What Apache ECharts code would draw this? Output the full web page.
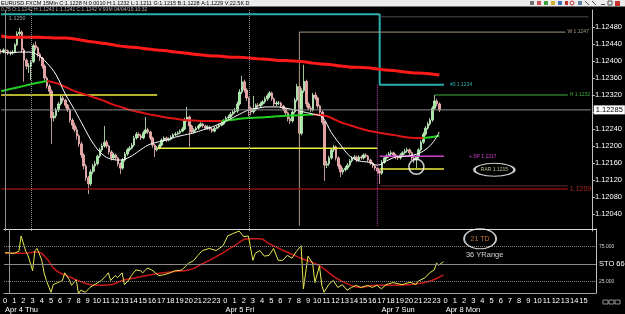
<!DOCTYPE html>
<html>
<head>
<meta charset="UTF-8">
<title>EURUSD.FXCM 15Min</title>
<script src="https://cdn.jsdelivr.net/npm/echarts@6/dist/echarts.min.js"></script>
<style>
  html, body { margin: 0; padding: 0; background: #000; }
  #main { width: 625px; height: 314px; }
</style>
</head>
<body>
<div id="main"></div>
<script type="text/javascript">
// ---- axis labels ----
var hourLabels = ['0','1','2','3','4','5','6','7','8','9','10','11','12','13','14','15','16','17','18','19','20','21','22','23',
  '0','1','2','3','4','5','6','7','8','9','10','11','12','13','14','15','16',
  '17','18','19','20','21','22','23',
  '0','1','2','3','4','5','6','7','8','9','10','11','12','13','14','15'];
var dateHours = [0, 24, 41, 48];
var dateTexts = ['Apr 4 Thu', 'Apr 5 Fri', 'Apr 7 Sun', 'Apr 8 Mon'];
var barsPerHour = 4;
var totalSlots = 258;

// ---- 15 min candles ----
var opens = [1.12423,1.12421,1.12426,1.12424,1.12419,1.12419,1.12421,1.12438,1.12464,1.12468,
  1.12426,1.12402,1.12388,1.12388,1.12398,1.12436,1.12431,1.12416,1.12407,1.12388,
  1.12360,1.12341,1.12329,1.12266,1.12271,1.12285,1.12299,1.12313,1.12308,1.12296,
  1.12285,1.12261,1.12249,1.12238,1.12224,1.12205,1.12179,1.12153,1.12125,1.12111,
  1.12139,1.12153,1.12158,1.12176,1.12191,1.12200,1.12209,1.12200,1.12186,1.12172,
  1.12179,1.12172,1.12158,1.12148,1.12167,1.12181,1.12191,1.12195,1.12202,1.12219,
  1.12228,1.12224,1.12219,1.12231,1.12238,1.12233,1.12219,1.12202,1.12191,1.12195,
  1.12202,1.12214,1.12219,1.12214,1.12216,1.12221,1.12226,1.12228,1.12231,1.12235,
  1.12240,1.12261,1.12268,1.12247,1.12233,1.12238,1.12242,1.12247,1.12252,1.12247,
  1.12242,1.12245,1.12240,1.12235,1.12242,1.12245,1.12249,1.12252,1.12259,1.12266,
  1.12268,1.12275,1.12280,1.12282,1.12299,1.12327,1.12351,1.12332,1.12313,1.12289,
  1.12280,1.12287,1.12296,1.12294,1.12299,1.12304,1.12311,1.12318,1.12325,1.12311,
  1.12299,1.12301,1.12301,1.12294,1.12287,1.12278,1.12264,1.12259,1.12280,1.12308,
  1.12340,1.12230,1.12330,1.12352,1.12299,1.12289,1.12285,1.12320,1.12313,1.12294,
  1.12280,1.12256,1.12155,1.12158,1.12172,1.12191,1.12198,1.12172,1.12153,1.12139,
  1.12144,1.12148,1.12155,1.12165,1.12172,1.12174,1.12167,1.12174,1.12172,1.12179,
  1.12176,1.12167,1.12160,1.12153,1.12148,1.12141,1.12136,1.12162,1.12172,1.12176,
  1.12181,1.12184,1.12179,1.12174,1.12172,1.12179,1.12184,1.12188,1.12191,1.12184,
  1.12172,1.12167,1.12174,1.12191,1.12209,1.12228,1.12242,1.12252,1.12261,1.12289,
  1.12306,1.12299];
var closes = [1.12421,1.12426,1.12424,1.12419,1.12419,1.12421,1.12438,1.12464,1.12468,1.12426,
  1.12402,1.12388,1.12388,1.12398,1.12436,1.12431,1.12416,1.12407,1.12388,1.12360,
  1.12341,1.12329,1.12266,1.12271,1.12285,1.12299,1.12313,1.12308,1.12296,1.12285,
  1.12261,1.12249,1.12238,1.12224,1.12205,1.12179,1.12153,1.12125,1.12111,1.12139,
  1.12153,1.12158,1.12176,1.12191,1.12200,1.12209,1.12200,1.12186,1.12172,1.12179,
  1.12172,1.12158,1.12148,1.12167,1.12181,1.12191,1.12195,1.12202,1.12219,1.12228,
  1.12224,1.12219,1.12231,1.12238,1.12233,1.12219,1.12202,1.12191,1.12195,1.12202,
  1.12214,1.12219,1.12214,1.12216,1.12221,1.12226,1.12228,1.12231,1.12235,1.12240,
  1.12261,1.12268,1.12247,1.12233,1.12238,1.12242,1.12247,1.12252,1.12247,1.12242,
  1.12245,1.12240,1.12235,1.12242,1.12245,1.12249,1.12252,1.12259,1.12266,1.12268,
  1.12275,1.12280,1.12282,1.12299,1.12327,1.12351,1.12332,1.12313,1.12289,1.12280,
  1.12287,1.12296,1.12294,1.12299,1.12304,1.12311,1.12318,1.12325,1.12311,1.12299,
  1.12301,1.12301,1.12294,1.12287,1.12278,1.12264,1.12259,1.12280,1.12308,1.12340,
  1.12230,1.12330,1.12352,1.12299,1.12289,1.12285,1.12320,1.12313,1.12294,1.12280,
  1.12256,1.12155,1.12158,1.12172,1.12191,1.12198,1.12172,1.12153,1.12139,1.12144,
  1.12148,1.12155,1.12165,1.12172,1.12174,1.12167,1.12174,1.12172,1.12179,1.12176,
  1.12167,1.12160,1.12153,1.12148,1.12141,1.12136,1.12162,1.12172,1.12176,1.12181,
  1.12184,1.12179,1.12174,1.12172,1.12179,1.12184,1.12188,1.12191,1.12184,1.12172,
  1.12167,1.12174,1.12191,1.12209,1.12228,1.12242,1.12252,1.12261,1.12289,1.12306,
  1.12299,1.12285];
var highs = [1.12428,1.12430,1.12429,1.12427,1.12424,1.12426,1.12442,1.12470,1.12478,1.12472,
  1.12430,1.12406,1.12395,1.12402,1.12441,1.12446,1.12434,1.12420,1.12410,1.12392,
  1.12364,1.12346,1.12333,1.12280,1.12290,1.12304,1.12320,1.12318,1.12311,1.12299,
  1.12289,1.12265,1.12255,1.12245,1.12228,1.12210,1.12183,1.12158,1.12130,1.12145,
  1.12158,1.12165,1.12180,1.12196,1.12206,1.12247,1.12214,1.12203,1.12190,1.12184,
  1.12182,1.12175,1.12162,1.12172,1.12186,1.12195,1.12200,1.12207,1.12224,1.12233,
  1.12232,1.12228,1.12236,1.12268,1.12243,1.12236,1.12222,1.12205,1.12200,1.12206,
  1.12218,1.12223,1.12222,1.12220,1.12225,1.12230,1.12233,1.12235,1.12239,1.12245,
  1.12266,1.12292,1.12272,1.12250,1.12242,1.12246,1.12251,1.12256,1.12255,1.12250,
  1.12249,1.12248,1.12243,1.12246,1.12249,1.12253,1.12257,1.12263,1.12270,1.12273,
  1.12280,1.12285,1.12290,1.12305,1.12334,1.12365,1.12356,1.12336,1.12316,1.12293,
  1.12318,1.12300,1.12301,1.12304,1.12308,1.12316,1.12323,1.12329,1.12328,1.12314,
  1.12306,1.12306,1.12304,1.12297,1.12290,1.12281,1.12268,1.12285,1.12313,1.12346,
  1.12345,1.12336,1.12391,1.12356,1.12303,1.12294,1.12325,1.12327,1.12316,1.12297,
  1.12283,1.12259,1.12165,1.12177,1.12195,1.12203,1.12201,1.12176,1.12157,1.12149,
  1.12153,1.12160,1.12169,1.12176,1.12179,1.12177,1.12178,1.12178,1.12183,1.12183,
  1.12179,1.12170,1.12163,1.12156,1.12151,1.12145,1.12167,1.12176,1.12181,1.12186,
  1.12189,1.12187,1.12182,1.12178,1.12183,1.12188,1.12193,1.12196,1.12194,1.12187,
  1.12175,1.12178,1.12195,1.12214,1.12233,1.12247,1.12257,1.12266,1.12294,1.12320,
  1.12311,1.12303];
var lows = [1.12417,1.12418,1.12420,1.12414,1.12413,1.12415,1.12418,1.12435,1.12458,1.12420,
  1.12351,1.12380,1.12372,1.12355,1.12395,1.12425,1.12410,1.12400,1.12382,1.12352,
  1.12335,1.12322,1.12205,1.12258,1.12265,1.12280,1.12295,1.12302,1.12290,1.12280,
  1.12255,1.12240,1.12232,1.12215,1.12198,1.12172,1.12145,1.12118,1.12087,1.12106,
  1.12134,1.12140,1.12154,1.12172,1.12186,1.12196,1.12195,1.12180,1.12166,1.12168,
  1.12166,1.12152,1.12134,1.12144,1.12163,1.12177,1.12187,1.12192,1.12198,1.12215,
  1.12219,1.12214,1.12216,1.12228,1.12228,1.12214,1.12196,1.12174,1.12187,1.12192,
  1.12199,1.12210,1.12210,1.12211,1.12213,1.12218,1.12223,1.12225,1.12228,1.12232,
  1.12237,1.12257,1.12198,1.12228,1.12229,1.12234,1.12238,1.12244,1.12243,1.12238,
  1.12238,1.12236,1.12231,1.12232,1.12239,1.12241,1.12246,1.12249,1.12255,1.12262,
  1.12264,1.12271,1.12276,1.12278,1.12295,1.12322,1.12326,1.12306,1.12270,1.12272,
  1.12276,1.12282,1.12289,1.12290,1.12295,1.12300,1.12306,1.12313,1.12306,1.12294,
  1.12294,1.12296,1.12290,1.12282,1.12272,1.12258,1.12252,1.12255,1.12276,1.12304,
  1.12165,1.12225,1.12325,1.12292,1.12284,1.12279,1.12281,1.12308,1.12288,1.12274,
  1.12250,1.12118,1.12148,1.12153,1.12168,1.12186,1.12166,1.12146,1.12127,1.12133,
  1.12140,1.12144,1.12151,1.12161,1.12168,1.12162,1.12163,1.12168,1.12168,1.12172,
  1.12163,1.12155,1.12148,1.12142,1.12134,1.12111,1.12132,1.12158,1.12168,1.12172,
  1.12177,1.12175,1.12169,1.12167,1.12168,1.12175,1.12180,1.12184,1.12179,1.12167,
  1.12160,1.12148,1.12170,1.12187,1.12205,1.12224,1.12238,1.12248,1.12257,1.12285,
  1.12293,1.12280];

// ---- moving averages, one reading per hour ----
var slowMA = [1.12459,1.12456,1.12456,1.12456,1.12456,1.12455,1.12454,1.12454,1.12452,1.12448,
  1.12445,1.12442,1.12439,1.12435,1.12433,1.12431,1.12428,1.12426,1.12424,1.12421,
  1.12419,1.12416,1.12414,1.12412,1.12411,1.12409,1.12409,1.12407,1.12405,1.12404,
  1.12402,1.12401,1.12400,1.12398,1.12395,1.12393,1.12391,1.12388,1.12386,1.12385,
  1.12384,1.12381,1.12379,1.12377,1.12374,1.12372,1.12371,1.12369,1.12367];
var midMA = [1.12329,1.12334,1.12339,1.12344,1.12349,1.12353,1.12348,1.12339,1.12329,1.12322,
  1.12315,1.12308,1.12299,1.12292,1.12285,1.12280,1.12275,1.12271,1.12267,1.12264,
  1.12261,1.12260,1.12259,1.12259,1.12259,1.12261,1.12264,1.12266,1.12267,1.12268,
  1.12270,1.12271,1.12272,1.12273,1.12274,1.12273,1.12266,1.12256,1.12249,1.12242,
  1.12236,1.12232,1.12228,1.12225,1.12221,1.12219,1.12219,1.12221,1.12224];
var fastMA = [1.12423,1.12419,1.12421,1.12421,1.12414,1.12395,1.12367,1.12322,1.12285,1.12245,
  1.12207,1.12181,1.12169,1.12167,1.12174,1.12188,1.12202,1.12209,1.12214,1.12221,
  1.12226,1.12231,1.12238,1.12245,1.12254,1.12264,1.12275,1.12285,1.12289,1.12292,
  1.12292,1.12289,1.12285,1.12280,1.12275,1.12268,1.12231,1.12202,1.12176,1.12165,
  1.12162,1.12155,1.12165,1.12174,1.12176,1.12179,1.12188,1.12207,1.12233];

// ---- stochastic ----
var stoKBar = [0,4,6,7,9,10,12,13,14,16,17,18,20,21,23,25,26,28,29,31,32,33,35,37,39,42,44,45,46,48,
  49,51,52,54,55,57,59,60,62,64,67,69,72,74,77,80,82,84,86,89,92,95,97,99,102,104,106,108,109,111,
  113,115,117,119,121,123,125,127,129,130,132,134,135,137,138,139,141,143,145,147,149,151,153,155,158,160,162,164,166,169,
  173,176,177,179,180,183,185,187,188,189,191];
var stoK = [66,65,68,90,68,62,40,69,72,55,37,26,9,20,23,26,37,27,19,27,7,12,9,16,20,26,33,37,26,33,
  30,37,20,27,33,41,40,37,44,41,33,34,37,40,41,51,54,62,69,72,69,76,90,93,97,89,90,55,65,69,
  61,62,72,55,55,62,58,68,76,14,61,51,23,47,19,9,20,26,16,20,12,16,19,16,19,16,19,14,20,23,
  20,23,23,20,25,30,37,41,51,48,53];
var stoDBar = [0,8,14,18,22,29,34,40,46,51,57,63,69,74,80,86,93,100,106,111,115,122,129,137,144,150,155,161,167,176,181,186,191];
var stoD = [65,65,67,58,41,30,23,19,20,26,30,34,37,39,41,50,62,76,86,86,79,68,58,47,30,20,16,19,19,20,22,26,34];

// ---- drawn objects: [bar, price] ----
var pivotStep = [[0, 1.12510], [165, 1.12510], [165, 1.12344], [193, 1.12344]];
var topLine = [[165, 1.12504], [256, 1.12504]];
var weekHigh = [[130, 1.12012], [130, 1.12468], [246, 1.12468]];
var dayHigh = [[189, 1.12320], [247, 1.12320]];
var yellow1 = [[0, 1.12320], [68, 1.12320]];
var yellow2 = [[68, 1.12195], [164, 1.12195]];
var yellow3 = [[165, 1.12146], [193, 1.12146]];
var spLine = [[165, 1.12176], [193, 1.12176]];
var lowLine = [[0, 1.12099], [247, 1.12099]];
var lowLine2 = [[165, 1.12106], [247, 1.12106]];
var sessionLine = [[164, 1.12344], [164, 1.12012]];
var bidPrice = 1.12285;
var bidLine = [[0, bidPrice], [257, bidPrice]];
var highMark = [7, 1.12499];
var circleMark = [181, 1.12151];
var rarMark = [215, 1.12144];
var tdMark = [207, 86];
var yrMark = [209, 63];

var font = 'Liberation Sans, Arial, sans-serif';
var myChart = echarts.init(document.getElementById('main'));

var xCats = [];
for (var i = 0; i < totalSlots; i++) {
  var h = i / barsPerHour;
  xCats.push(i % barsPerHour === 0 && h < hourLabels.length ? hourLabels[h] : '');
}
var dateSlots = dateHours.map(function (h) { return h * barsPerHour; });

var candles = closes.map(function (c, i) { return [opens[i], c, lows[i], highs[i]]; });
function hourly(arr) {
  return arr.map(function (v, k) { return [Math.min(k * barsPerHour, closes.length - 1), v]; });
}
function pairs(bars, vals) { return bars.map(function (b, i) { return [b, vals[i]]; }); }

// split the coloured MA into rising / falling pieces
var midUp = [], midDown = [];
var rising = true;
for (var k = 0; k < midMA.length; k++) { midUp.push(null); midDown.push(null); }
for (var k = 0; k < midMA.length - 1; k++) {
  if (midMA[k + 1] > midMA[k]) rising = true;
  else if (midMA[k + 1] < midMA[k]) rising = false;
  var t = rising ? midUp : midDown;
  t[k] = midMA[k]; t[k + 1] = midMA[k + 1];
}
function hourlyNull(arr) {
  return arr.map(function (v, k) { return [Math.min(k * barsPerHour, closes.length - 1), v === null ? '-' : v]; });
}

function level(data, color, width, type, endText, endDist) {
  var s = {
    type: 'line', xAxisIndex: 0, yAxisIndex: 0, data: data, symbol: 'none', silent: true,
    lineStyle: { color: color, width: width, type: type || 'solid' }, z: 3
  };
  if (endText) {
    s.endLabel = { show: true, formatter: endText, color: color, fontSize: 5, fontFamily: font, distance: endDist || 2 };
  }
  return s;
}
function note(point, text, color, size, symbolSize, grid) {
  return {
    type: 'scatter', xAxisIndex: grid, yAxisIndex: grid, data: [point], silent: true, z: 6,
    symbol: symbolSize ? 'path://M0,50 A50,50 0 1,1 100,50 A50,50 0 1,1 0,50 Z' : 'circle',
    symbolSize: symbolSize || 1,
    itemStyle: symbolSize ? { color: 'rgba(0,0,0,0)', borderColor: '#ffffff', borderWidth: 1.5 } : { color: 'rgba(0,0,0,0)' },
    label: { show: !!text, formatter: text, position: 'inside', color: color, fontSize: size, fontFamily: font }
  };
}

var option = {
  backgroundColor: '#000000',
  animation: false,
  title: [
    { text: 'EURUSD.FXCM 15Min C:1.1228 N:0.0010 H:1.1232 L:1.1211 G:1.1215 B:1.1228 A:1.1229 V:22.5K D', left: 1, top: 0, padding: 0,
      textStyle: { color: '#000', fontSize: 5.5, fontWeight: 'normal', fontFamily: font } },
    { text: '0.75 O:1.1242 H:1.1243 L:1.1241 C:1.1242 V:93M 04/04/19 10:32', left: 1, top: 7, padding: 0,
      textStyle: { color: '#b0b0b0', fontSize: 5, fontWeight: 'normal', fontFamily: font } }
  ],
  graphic: [
    { type: 'rect', shape: { x: 0, y: 0, width: 625, height: 6.5 }, style: { fill: '#ececec' }, z: -1 },
    { type: 'rect', shape: { x: 530, y: 1, width: 4, height: 4 }, style: { fill: '#707070' } },
    { type: 'rect', shape: { x: 537, y: 1, width: 4, height: 4 }, style: { fill: '#d05050' } },
    { type: 'rect', shape: { x: 544, y: 1, width: 4, height: 4 }, style: { fill: '#40a040' } },
    { type: 'rect', shape: { x: 551, y: 1, width: 4, height: 4 }, style: { fill: '#d0b030' } },
    { type: 'rect', shape: { x: 558, y: 1, width: 4, height: 4 }, style: { fill: '#4070c0' } },
    { type: 'rect', shape: { x: 565, y: 1, width: 3, height: 4 }, style: { fill: '#c03030' } },
    { type: 'circle', shape: { cx: 572, cy: 3, r: 2 }, style: { fill: 'none', stroke: '#c03030' } },
    { type: 'rect', shape: { x: 578, y: 1, width: 4, height: 4 }, style: { fill: '#6080a0' } },
    { type: 'line', shape: { x1: 585, y1: 1, x2: 589, y2: 5 }, style: { stroke: '#505050' } },
    { type: 'line', shape: { x1: 592, y1: 1, x2: 596, y2: 5 }, style: { stroke: '#505050' } },
    { type: 'rect', shape: { x: 601, y: 4, width: 4, height: 1 }, style: { fill: '#505050' } },
    { type: 'rect', shape: { x: 608, y: 1, width: 4, height: 4 }, style: { fill: 'none', stroke: '#505050' } },
    { type: 'rect', shape: { x: 615, y: 1, width: 5, height: 5 }, style: { fill: '#d03030' } },
    { type: 'rect', shape: { x: 603, y: 300, width: 5, height: 4 }, style: { fill: 'none', stroke: '#b0b0b0', lineWidth: 0.8 } },
    { type: 'rect', shape: { x: 609, y: 300, width: 5, height: 4 }, style: { fill: 'none', stroke: '#b0b0b0', lineWidth: 0.8 } },
    { type: 'rect', shape: { x: 615, y: 300, width: 5, height: 4 }, style: { fill: 'none', stroke: '#b0b0b0', lineWidth: 0.8 } }
  ],
  grid: [
    { left: 0, right: 29, top: 10, height: 221 },
    { left: 0, right: 29, top: 229, height: 67 }
  ],
  xAxis: [
    { type: 'category', gridIndex: 0, data: xCats, show: false },
    { type: 'category', gridIndex: 1, data: xCats,
      axisLine: { lineStyle: { color: '#a0a0a0' } }, axisTick: { show: false },
      axisLabel: { color: '#ffffff', fontSize: 7.5, margin: 4, fontFamily: font,
        interval: function (index) { return index % barsPerHour === 0 && index / barsPerHour < hourLabels.length; } } },
    { type: 'category', gridIndex: 1, data: xCats, position: 'bottom', offset: 9,
      axisLine: { show: false }, axisTick: { show: false },
      axisLabel: { color: '#ffffff', fontSize: 7.5, margin: 4, fontFamily: font, align: 'left',
        interval: function (index) { return dateSlots.indexOf(index) >= 0; },
        formatter: function (value, index) { return dateTexts[dateSlots.indexOf(index)] || ''; } } },
    { type: 'category', gridIndex: 1, data: xCats, position: 'top',
      axisLine: { lineStyle: { color: '#d8d8d8' } }, axisTick: { show: false }, axisLabel: { show: false } }
  ],
  yAxis: [
    { type: 'value', gridIndex: 0, position: 'right', min: 1.12, max: 1.1252, interval: 0.0004,
      splitLine: { show: false },
      axisLine: { show: true, lineStyle: { color: '#c0c0c0' } },
      axisTick: { show: true, length: 3, lineStyle: { color: '#c0c0c0' } },
      axisLabel: { color: '#ffffff', fontSize: 7.5, margin: 3, fontFamily: font, showMinLabel: false, showMaxLabel: false,
        formatter: function (v) { return Math.abs(v - bidPrice) < 0.0001 ? '' : v.toFixed(5); } } },
    { type: 'value', gridIndex: 1, position: 'right', min: 8, max: 100,
      splitLine: { show: false },
      axisLine: { show: true, lineStyle: { color: '#c0c0c0' } },
      axisTick: { show: false }, axisLabel: { show: false } }
  ],
  series: [
    {
      type: 'candlestick', name: 'EURUSD', xAxisIndex: 0, yAxisIndex: 0, data: candles, barWidth: 2,
      itemStyle: { color: '#9aee9a', color0: '#f09c9c', borderColor: '#c8f4c8', borderColor0: '#f2bcbc', borderWidth: 0.8 },
      markLine: {
        silent: true, symbol: ['none', 'none'], animation: false, label: { show: false },
        data: [
          { xAxis: 2, lineStyle: { color: '#909090', width: 1, type: 'solid' } },
          { xAxis: 13, lineStyle: { color: '#909090', width: 1, type: 'dotted' } },
          { xAxis: 108, lineStyle: { color: '#909090', width: 1, type: 'dotted' } }
        ]
      }
    },
    {
      type: 'line', name: 'Bid', xAxisIndex: 0, yAxisIndex: 0, data: bidLine, symbol: 'none', silent: true, z: 10,
      lineStyle: { color: '#8c8c8c', width: 1 },
      endLabel: { show: true, formatter: bidPrice.toFixed(5), color: '#000000', backgroundColor: '#ffffff',
        fontSize: 7.5, fontFamily: font, padding: [1, 2, 0, 2], distance: 3 }
    },
    level(pivotStep, '#2ab0b0', 2, 'solid', '#0 1.1234', 6),
    level(topLine, '#4a4a4a', 1),
    level(weekHigh, '#a89880', 1, 'solid', 'W 1.1247', 2),
    level(dayHigh, '#40b040', 1, 'solid', 'H 1.1232', 2),
    level(yellow1, '#f0f040', 1.5),
    level(yellow2, '#f0f040', 1.5),
    level(yellow3, '#f0f040', 1.5),
    level(spLine, '#d040d0', 1.5, 'solid', '+ SP 1.1217', 25),
    level(lowLine2, '#6a2a2a', 1),
    {
      type: 'line', xAxisIndex: 0, yAxisIndex: 0, data: lowLine, symbol: 'none', silent: true, z: 3,
      lineStyle: { color: '#8a1010', width: 1.5 },
      endLabel: { show: true, formatter: '1.1209', color: '#b02020', fontSize: 7, fontFamily: font, distance: 2 }
    },
    level(sessionLine, '#c040c0', 1, 'dotted'),
    { type: 'line', name: 'MA slow', xAxisIndex: 0, yAxisIndex: 0, data: hourly(slowMA), symbol: 'none', smooth: 0.4,
      lineStyle: { color: '#ff1a1a', width: 3 }, z: 4 },
    { type: 'line', name: 'MA up', xAxisIndex: 0, yAxisIndex: 0, data: hourlyNull(midUp), symbol: 'none', smooth: 0.4,
      lineStyle: { color: '#22d022', width: 2 }, z: 4 },
    { type: 'line', name: 'MA down', xAxisIndex: 0, yAxisIndex: 0, data: hourlyNull(midDown), symbol: 'none', smooth: 0.4,
      lineStyle: { color: '#e01414', width: 2 }, z: 4 },
    { type: 'line', name: 'MA fast', xAxisIndex: 0, yAxisIndex: 0, data: hourly(fastMA), symbol: 'none', smooth: 0.4,
      lineStyle: { color: '#ffffff', width: 1 }, z: 5 },
    note(highMark, '1.1250', '#c0c0c0', 5.5, null, 0),
    note(circleMark, '', '#fff', 5, 15, 0),
    note(rarMark, 'RAR 1.1215', '#e8e8b0', 5, [40, 13], 0),
    {
      type: 'line', name: 'STO %K', xAxisIndex: 1, yAxisIndex: 1, data: pairs(stoKBar, stoK), symbol: 'none',
      lineStyle: { color: '#e8e850', width: 1 }, z: 4,
      markLine: {
        silent: true, symbol: ['none', 'none'], animation: false,
        data: [
          { yAxis: 75, lineStyle: { color: '#8a8a8a', width: 1, type: 'dotted' },
            label: { show: true, position: 'end', formatter: '75.000', color: '#d0d0d0', fontSize: 5, fontFamily: font, distance: 3 } },
          { yAxis: 50, lineStyle: { color: '#8a8a8a', width: 1, type: 'solid' },
            label: { show: true, position: 'end', formatter: 'STO 66,', color: '#ffffff', fontSize: 7.5, fontFamily: font, distance: 3 } },
          { yAxis: 25, lineStyle: { color: '#8a8a8a', width: 1, type: 'dotted' },
            label: { show: true, position: 'end', formatter: '25.000', color: '#d0d0d0', fontSize: 5, fontFamily: font, distance: 3 } },
          { xAxis: 2, lineStyle: { color: '#909090', width: 1, type: 'solid' }, label: { show: false } }
        ]
      }
    },
    { type: 'line', name: 'STO %D', xAxisIndex: 1, yAxisIndex: 1, data: pairs(stoDBar, stoD), symbol: 'none', smooth: 0.5,
      lineStyle: { color: '#c81818', width: 1.5 }, z: 3 },
    note(tdMark, '21 TD', '#f09040', 7, [32, 20], 1),
    note(yrMark, '36 YRange', '#ffffff', 7.5, null, 1)
  ]
};

myChart.setOption(option);
</script>
</body>
</html>
